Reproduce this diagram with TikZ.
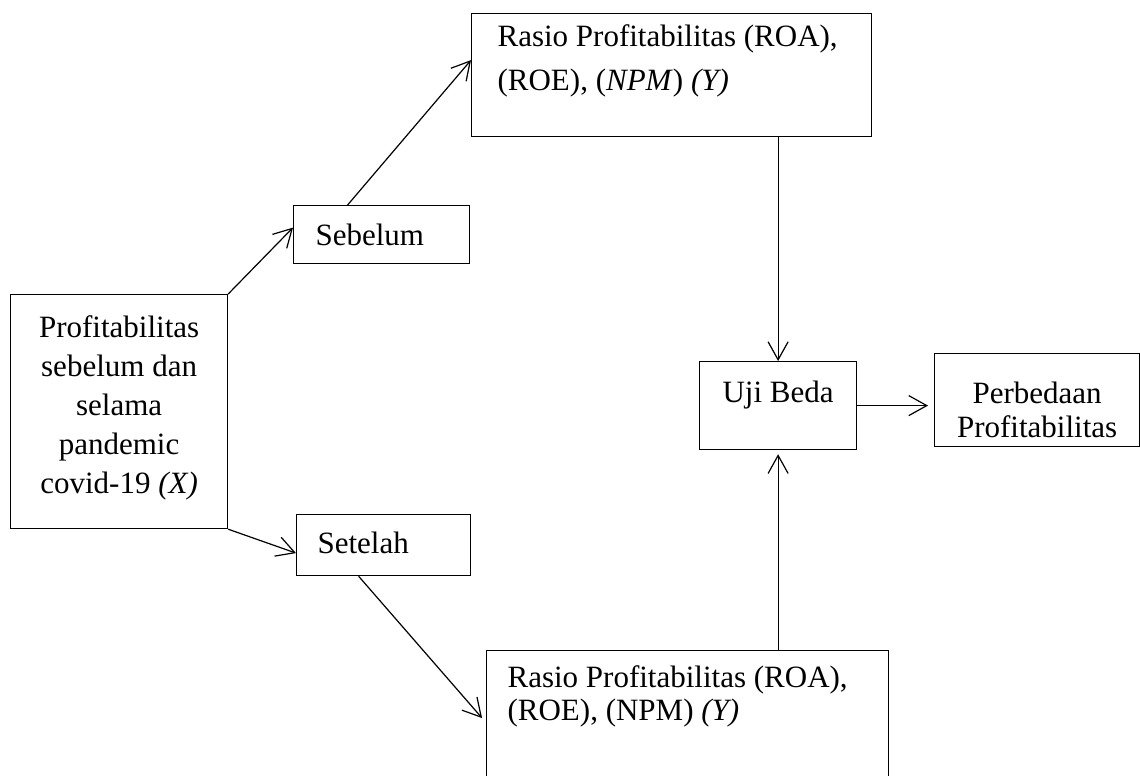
\documentclass[tikz,border=0pt]{standalone}
\usepackage{fontspec}
\setmainfont{Liberation Serif}
\usetikzlibrary{arrows.meta}
\usetikzlibrary{calc}

\newcommand{\isikotak}[4]{\parbox[c][#2][t]{#1}{\vspace*{#3}#4}}

\begin{document}
\begin{tikzpicture}[x=0.5pt, y=-0.5pt,
    kotak/.style={draw, line width=0.6pt, anchor=north west, inner ysep=0pt},
    >={Straight Barb[length=9pt,width=10pt]}, line width=0.6pt]
    \useasboundingbox (0,0) rectangle (1140,776);

    \node[kotak, inner xsep=4pt, font=\fontsize{15.5}{19.5}\selectfont] (cov) at (10,294)
      {\isikotak{100.5pt}{117pt}{7.85pt}{\centering\strut Profitabilitas\\ sebelum dan\\ selama\\ pandemic\\ covid-19 \textit{(X)}}};
    \node[kotak, inner xsep=11pt, font=\fontsize{15.5}{17}\selectfont] (seb) at (293,205)
      {\isikotak{66pt}{29pt}{8.1pt}{\raggedright\strut Sebelum}};
    \node[kotak, inner xsep=10.5pt, font=\fontsize{15.5}{17}\selectfont] (set) at (296,514)
      {\isikotak{66pt}{30.5pt}{7.6pt}{\raggedright\strut Setelah}};
    \node[kotak, inner xsep=13pt, font=\fontsize{15.5}{22}\selectfont] (roa1) at (471,13)
      {\isikotak{174pt}{61.5pt}{1.1pt}{\raggedright\strut Rasio Profitabilitas (ROA),\\ (ROE), (\textit{NPM}) \textit{(Y)}}};
    \node[kotak, inner xsep=10.5pt, font=\fontsize{15.5}{16.5}\selectfont] (roa2) at (486,650)
      {\isikotak{180pt}{70pt}{6.95pt}{\raggedright\strut Rasio Profitabilitas (ROA),\\ (ROE), (NPM) \textit{(Y)}}};
    \node[kotak, inner xsep=4pt, font=\fontsize{15.5}{17}\selectfont] (uji) at (699,361)
      {\isikotak{70.5pt}{44pt}{8.6pt}{\centering\strut Uji Beda}};
    \node[kotak, inner xsep=4pt, font=\fontsize{15.5}{17}\selectfont] (perb) at (934,353)
      {\isikotak{94.5pt}{46.5pt}{13.1pt}{\centering\strut Perbedaan\\ Profitabilitas}};

    \path[->] (cov.north east) edge ([yshift=3.5pt]seb.west);
    \path[->] ([xshift=-17pt]seb.north) edge ([yshift=7.5pt]roa1.west);

    \path[->] (cov.south east) edge ([yshift=-4pt]set.west);
    \path[->, shorten >=3pt] ([xshift=-12.5pt]set.south) edge ([yshift=-1pt]roa2.west);

    \path[->] (roa1.south -| uji.north) edge (uji.north);
    \path[->, shorten >=2pt] (roa2.north -| uji.south) edge (uji.south);
    \path[->, shorten >=3pt] (uji.east) edge (uji.east -| perb.west);
  \end{tikzpicture}
\end{document}
